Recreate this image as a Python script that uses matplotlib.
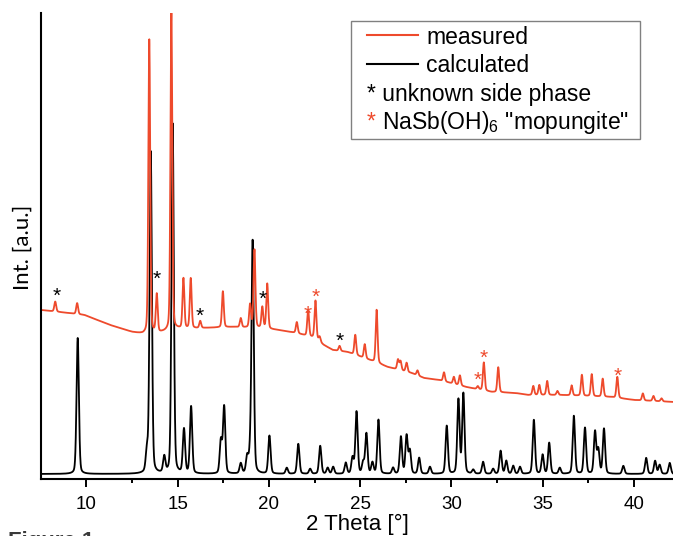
import numpy as np
import matplotlib
matplotlib.use('Agg')
import matplotlib.pyplot as plt
from matplotlib.patches import Rectangle
from matplotlib.lines import Line2D

### Fonts
plt.rcParams['font.family'] = ['Liberation Sans', 'DejaVu Sans']
plt.rcParams['mathtext.fontset'] = 'custom'
plt.rcParams['mathtext.rm'] = 'Liberation Sans'
plt.rcParams['mathtext.default'] = 'regular'

### Calculated pattern: reflection positions [2 Theta] and intensities [a.u.]
calc_pos = [9.53, 13.32, 13.53, 14.27, 14.73, 15.35, 15.74, 17.37, 17.55, 18.46,
            18.81, 18.97, 19.11, 20.03, 20.98, 21.61, 22.26, 22.81, 23.22, 23.52,
            24.21, 24.58, 24.80, 25.16, 25.34, 25.67, 26.00, 26.80, 27.23, 27.54,
            27.72, 28.23, 28.82, 29.74, 30.38, 30.65, 31.19, 31.73, 32.28, 32.69,
            33.00, 33.38, 33.75, 34.51, 34.99, 35.35, 35.93, 36.70, 37.31, 37.86,
            38.04, 38.35, 39.41, 40.66, 41.15, 41.40, 41.95]
calc_int = [136, 20, 322, 16, 350, 44, 67, 33, 67, 10,
            16, 15, 232, 38, 6, 30, 5, 28, 6, 7,
            11, 16, 62, 11, 40, 11, 54, 6, 37, 38,
            23, 16, 7, 48, 74, 80, 4, 12, 5, 23,
            13, 8, 7, 54, 19, 31, 6, 58, 46, 42,
            24, 45, 8, 16, 13, 9, 11]
calc_base = 5

### Measured pattern: reflections on top of a sloping background
meas_pos = [8.30, 9.50, 13.45, 13.86, 14.66, 15.32, 15.72, 16.24, 17.48, 18.46,
            18.97, 19.21, 19.64, 19.91, 21.53, 22.15, 22.55, 22.78, 23.87, 24.73,
            25.25, 25.90, 27.07, 27.21, 27.54, 28.14, 29.59, 30.13, 30.46, 31.44,
            31.77, 32.56, 34.48, 34.81, 35.24, 35.80, 36.58, 37.14, 37.68, 38.28,
            39.08, 40.48, 41.06, 41.50]
meas_int = [10, 11, 294, 38, 318, 50, 50, 7, 36, 9,
            23, 78, 21, 45, 11, 26, 38, 5, 5, 20,
            14, 53, 10, 9, 9, 5, 9, 7, 10, 3,
            28, 25, 9, 10, 14, 4, 10, 21, 22, 18,
            21, 7, 5, 3]
bg_x = [7.52, 9.0, 9.9, 11.3, 12.5, 13.1, 14.0, 15.0, 16.5, 18.0,
        19.5, 20.5, 21.5, 22.5, 23.0, 23.5, 24.3, 25.5, 26.5, 27.8,
        28.5, 29.3, 30.8, 32.2, 33.5, 34.2, 36.0, 38.7, 40.0, 42.2]
bg_y = [169, 166, 164, 154, 147, 145, 146, 150, 151, 152,
        151, 149, 146, 141, 134, 129, 127, 119, 112, 106,
        101, 99, 92, 87, 86, 84, 84, 82, 79, 77]

### Phase markers
unk_x = [8.36, 13.87, 16.22, 19.65, 23.90]
unk_y = [183, 200, 163, 180, 138]
mop_x = [22.12, 22.54, 31.42, 31.79, 39.08]
mop_y = [165, 182, 99, 121, 103]

red = '#ee4a2c'

def pattern(tt, pos, inten, fwhm, eta=0.25):
    out = np.zeros_like(tt)
    for p, h in zip(pos, inten):
        d = (tt - p) / (fwhm / 2.)
        out += h * (eta / (1 + d**2) + (1 - eta) * np.exp(-np.log(2) * d**2))
    return out

tt = np.linspace(7.52, 42.2, 8000)
calc = calc_base + pattern(tt, calc_pos, calc_int, 0.15)
meas = np.interp(tt, bg_x, bg_y) + pattern(tt, meas_pos, meas_int, 0.12)

fig = plt.figure(figsize=(6.73, 5.36), dpi=100)
ax = fig.add_axes([41/673, 1-479/536, 1-41/673, (479-13)/536])

ax.plot(tt, calc, color='k', lw=1.3)
ax.plot(tt, meas, color=red, lw=1.3)

for x, y in zip(unk_x, unk_y):
    ax.text(x, y, '*', color='k', fontsize=15, ha='center', va='center')
for x, y in zip(mop_x, mop_y):
    ax.text(x, y, '*', color=red, fontsize=15, ha='center', va='center')

ax.set_xlim(7.52, 42.13)
ax.set_ylim(0, 466)
ax.set_xticks([10, 15, 20, 25, 30, 35, 40])
ax.set_xticks(np.arange(12.5, 42, 5), minor=True)
ax.set_yticks([])
ax.tick_params(axis='x', which='major', direction='out', length=6, width=1.4,
               labelsize=13.5, pad=6)
ax.tick_params(axis='x', which='minor', direction='out', length=3, width=1.4)
for s in ['top', 'right']:
    ax.spines[s].set_visible(False)
for s in ['left', 'bottom']:
    ax.spines[s].set_linewidth(1.5)

ax.set_xlabel('2 Theta [°]', fontsize=16, labelpad=1)
fig.text(23/673, 1-247/536, 'Int. [a.u.]', rotation=90, ha='center', va='center',
         fontsize=16, family=['Lato', 'DejaVu Sans'])

### Legend drawn by hand
fx = lambda px: px/673.
fy = lambda py: 1 - py/536.
fig.patches.append(Rectangle((fx(351), fy(139)), fx(640)-fx(351), fy(21)-fy(139),
                             transform=fig.transFigure, fill=False,
                             edgecolor='#808080', lw=1.0))
fig.lines.append(Line2D([fx(367), fx(418)], [fy(35), fy(35)], color=red, lw=1.5,
                        transform=fig.transFigure))
fig.lines.append(Line2D([fx(367), fx(418)], [fy(63.5), fy(63.5)], color='k', lw=1.5,
                        transform=fig.transFigure))
fig.text(fx(426), fy(44), 'measured', fontsize=16.5, va='baseline')
fig.text(fx(426), fy(72.5), 'calculated', fontsize=16.5, va='baseline')
fig.text(fx(367), fy(100.5), '* unknown side phase', fontsize=16.5, va='baseline')
fig.text(fx(367), fy(128.5), '*', color=red, fontsize=16.5, va='baseline')
fig.text(fx(382.5), fy(128.5), 'NaSb(OH)$_6$ "mopungite"', fontsize=16.5, va='baseline')

fig.text(fx(8), fy(531), 'Figure 1', fontsize=16, fontweight='bold', color='#3a3a3a',
         va='top')

plt.savefig('out.png', dpi=100)
